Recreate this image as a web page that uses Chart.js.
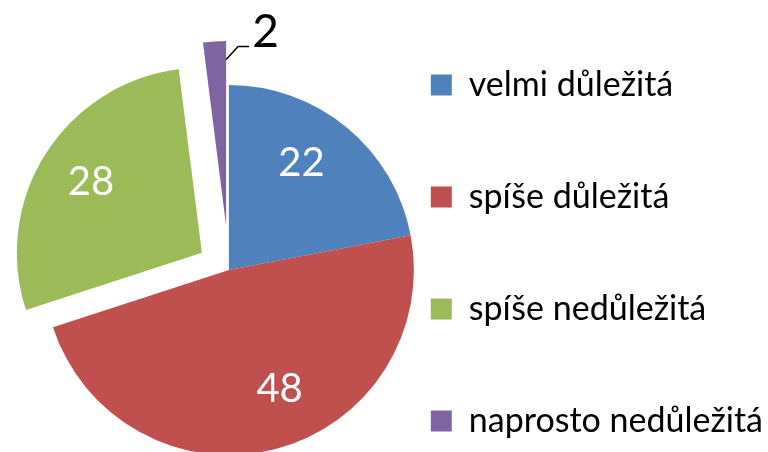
<!DOCTYPE html>
<html>
<head>
<meta charset="utf-8">
<script src="https://cdn.jsdelivr.net/npm/chart.js@4.4.1/dist/chart.umd.min.js"></script>
<style>
  html, body { margin: 0; padding: 0; background: #fff; overflow: hidden; width: 768px; height: 452px; }
  #wrap { position: absolute; left: 0; top: -10px; width: 773px; height: 560px; }
</style>
</head>
<body>
<div id="wrap"><canvas id="pie" width="773" height="560"></canvas></div>
<script>
'use strict';

/* data */
const categories = ['velmi důležitá', 'spíše důležitá', 'spíše nedůležitá', 'naprosto nedůležitá'];
const values     = [22, 48, 28, 2];

/* style */
const colors   = ['#4F81BD', '#C0504D', '#9BBB59', '#8064A2'];
const explode  = [0, 0, 32, 44];                  // px, vysunutí výseče
const labelAt  = [[0.43, 0.70], [0.45, 0.70], [0.5, 0.71], null]; // [podíl úhlu, podíl poloměru]
const FONT     = 'Lato, "Open Sans", sans-serif';

// posune každou výseč od středu (jako v Excelu)
const explodePlugin = {
  id: 'explode',
  afterDatasetUpdate(chart, args) {
    args.meta.data.forEach((arc, i) => {
      if (arc._exploded) return;
      const baseDraw = arc.draw.bind(arc);
      arc.draw = (ctx, area) => {
        const mid = (arc.startAngle + arc.endAngle) / 2;
        ctx.save();
        ctx.translate(Math.cos(mid) * explode[i], Math.sin(mid) * explode[i]);
        baseDraw(ctx, area);
        ctx.restore();
      };
      arc._exploded = true;
    });
  },
};

// popisky hodnot
const sliceLabels = {
  id: 'sliceLabels',
  afterDatasetsDraw(chart) {
    const ctx = chart.ctx;
    chart.getDatasetMeta(0).data.forEach((arc, i) => {
      const { x, y, startAngle, endAngle, outerRadius } =
        arc.getProps(['x', 'y', 'startAngle', 'endAngle', 'outerRadius'], true);
      const mid = (startAngle + endAngle) / 2;
      const cx = x + Math.cos(mid) * explode[i];
      const cy = y + Math.sin(mid) * explode[i];
      ctx.save();
      if (labelAt[i]) {
        const [ta, tr] = labelAt[i];
        const a = startAngle + (endAngle - startAngle) * ta;
        ctx.font = '40px ' + FONT;
        ctx.fillStyle = '#fff';
        ctx.textAlign = 'center';
        ctx.textBaseline = 'middle';
        ctx.fillText(String(values[i]), cx + Math.cos(a) * outerRadius * tr, cy + Math.sin(a) * outerRadius * tr);
      } else {
        // malá výseč: popisek venku s vodicí čarou
        const r0 = outerRadius * 0.9;
        const px = cx + Math.cos(endAngle) * r0;
        const py = cy + Math.sin(endAngle) * r0;
        ctx.strokeStyle = '#000';
        ctx.lineWidth = 1.5;
        ctx.beginPath();
        ctx.moveTo(px, py);
        ctx.lineTo(px + 12, py - 13);
        ctx.lineTo(px + 23, py - 13);
        ctx.stroke();
        ctx.font = '46px ' + FONT;
        ctx.fillStyle = '#000';
        ctx.textAlign = 'left';
        ctx.textBaseline = 'alphabetic';
        ctx.fillText(String(values[i]), px + 26, py - 13);
      }
      ctx.restore();
    });
  },
};

new Chart(document.getElementById('pie').getContext('2d'), {
  type: 'pie',
  data: {
    labels: categories,
    datasets: [{
      data: values,
      backgroundColor: colors,
      borderWidth: 0,
      radius: 185,
      clip: false,
    }],
  },
  options: {
    responsive: false,
    animation: false,
    events: [],
    layout: { padding: { left: 105, top: 0, right: 0, bottom: 0 } },
    plugins: {
      tooltip: { enabled: false },
      legend: {
        position: 'right',
        align: 'start',
        maxWidth: 600,
        labels: {
          boxWidth: 21, boxHeight: 21,
          padding: 78,
          color: '#000',
          font: { family: FONT, size: 34 },
        },
      },
    },
  },
  plugins: [explodePlugin, sliceLabels],
});
</script>
</body>
</html>
